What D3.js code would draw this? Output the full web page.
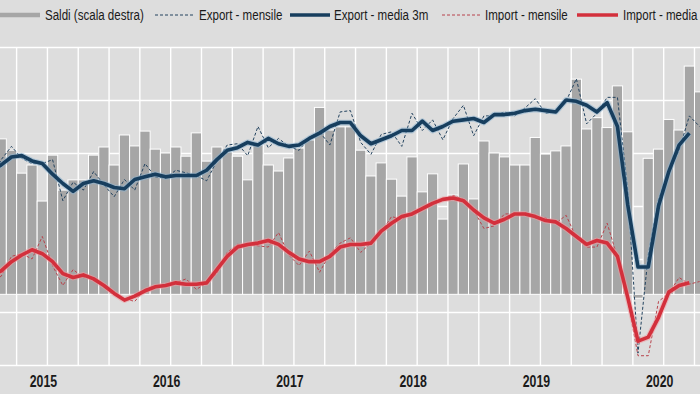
<!DOCTYPE html>
<html>
<head>
<meta charset="utf-8">
<script src="https://cdn.jsdelivr.net/npm/d3@7"></script>
<style>
  html, body { margin: 0; padding: 0; background: #dddddd; }
  svg { display: block; }
  text { font-family: "Liberation Sans", Arial, sans-serif; }
</style>
</head>
<body>
<svg id="chart" width="700" height="394"></svg>
<script>
// monthly data, Jan 2015 .. Oct 2020 (bn euro)
var years = ["2015", "2016", "2017", "2018", "2019", "2020"];

// Saldi (scala destra)
var saldi = [4.23, 4.40, 4.08, 3.43, 3.66, 2.64, 3.94, 2.95, 3.24, 3.24, 3.94, 4.17,
             3.66, 4.51, 4.20, 4.62, 4.11, 4.00, 4.17, 3.91, 4.57, 3.77, 4.17, 4.03,
             3.91, 3.24, 4.23, 3.66, 3.49, 3.86, 4.14, 4.37, 5.29, 4.65, 4.74, 4.74,
             4.08, 3.35, 3.72, 3.26, 2.78, 3.89, 2.90, 3.41, 2.13, 2.81, 3.69, 2.70,
             4.34, 4.00, 3.89, 3.66, 3.66, 4.44, 3.97, 4.06, 4.20, 6.09, 4.68, 5.00,
             4.72, 5.90, 4.60, -0.11, 3.85, 4.11, 4.95, 4.65, 6.46, 5.73];

var exportMensile = [33.4, 35.5, 36.5, 35.6, 35.2, 35.2, 35.5, 32.4, 33.8, 33.2, 34.6, 33.6,
                     32.7, 34.0, 33.2, 35.2, 34.2, 34.1, 34.7, 34.5, 34.3, 33.9, 35.4, 36.6,
                     36.7, 35.8, 38.0, 36.4, 37.1, 36.5, 36.2, 37.2, 37.6, 36.6, 39.1, 39.2,
                     36.8, 35.9, 37.4, 37.6, 36.5, 39.0, 37.7, 38.5, 37.0, 38.6, 39.6, 37.3,
                     38.8, 38.8, 39.1, 38.8, 39.4, 40.1, 39.0, 39.1, 39.9, 41.6, 38.2, 39.0,
                     40.2, 40.2, 33.2, 20.9, 28.3, 32.5, 34.6, 36.2, 38.8, 38.0];

var exportMedia3m = [34.6, 35.1, 35.7, 35.8, 35.4, 35.2, 34.4, 33.7, 33.1, 33.7, 33.9, 33.7,
                     33.4, 33.3, 34.0, 34.2, 34.4, 34.2, 34.3, 34.3, 34.3, 34.7, 35.5, 36.2,
                     36.4, 36.8, 36.6, 37.1, 36.7, 36.5, 36.6, 37.1, 37.5, 38.0, 38.3, 38.3,
                     37.3, 36.7, 37.0, 37.3, 37.7, 37.7, 38.4, 37.7, 38.0, 38.4, 38.5, 38.6,
                     38.3, 38.9, 38.9, 39.0, 39.2, 39.3, 39.2, 39.1, 40.0, 39.9, 39.6, 39.1,
                     39.8, 38.0, 32.1, 27.4, 27.4, 32.0, 34.6, 36.6, 37.5];

var importMensile = [26.3, 26.7, 28.2, 28.4, 28.0, 29.7, 27.5, 26.0, 27.2, 26.6, 26.6, 25.9,
                     25.3, 25.0, 24.8, 25.7, 26.0, 26.0, 26.2, 26.5, 25.7, 26.2, 26.9, 28.5,
                     29.1, 29.1, 29.0, 28.9, 30.0, 28.3, 27.5, 28.6, 27.0, 28.4, 29.2, 29.6,
                     28.5, 29.2, 30.0, 31.2, 31.0, 31.4, 31.8, 32.2, 32.5, 32.8, 32.5, 31.7,
                     30.3, 30.5, 31.4, 31.4, 31.5, 31.1, 31.1, 30.7, 31.3, 29.6, 28.9, 28.9,
                     30.7, 28.1, 24.9, 20.7, 20.7, 24.8, 25.4, 26.6, 26.1, 26.3];

var importMedia3m = [26.7, 27.1, 27.8, 28.3, 28.7, 28.4, 27.8, 26.9, 26.6, 26.8, 26.5, 26.0,
                     25.4, 24.9, 25.2, 25.6, 25.9, 26.0, 26.2, 26.1, 26.1, 26.2, 27.2, 28.2,
                     28.9, 29.1, 29.2, 29.4, 29.1, 28.5, 28.0, 27.8, 27.8, 28.2, 28.9, 29.1,
                     29.1, 29.2, 30.1, 30.7, 31.2, 31.4, 31.8, 32.2, 32.5, 32.6, 32.4, 31.7,
                     31.1, 30.7, 31.0, 31.4, 31.4, 31.2, 30.9, 30.8, 30.3, 29.7, 29.1, 29.4,
                     29.2, 28.2, 25.1, 21.8, 22.1, 23.6, 25.5, 26.0, 26.2];

var leftTicks = [20, 24, 28, 32, 36, 40, 44];

var C = {
    bg: "#dddddd",
    grid: "#ffffff",
    bar: "#a6a6a6",
    expThick: "#173e5e",
    expHalo: "#8db3cf",
    expDash: "#23435f",
    impThick: "#d3303c",
    impHalo: "#f19aa0",
    impDash: "#b8434c",
    text: "#1a1a1a"
};

var svg = d3.select("#chart");
var W = 700, H = 394;

// plot area runs past the crop on both sides
var plot = {top: 47, bottom: 365, left: -14.2, right: 725.3};

svg.append("rect").attr("width", W).attr("height", H).attr("fill", C.bg);

var months = d3.merge(years.map(function(y) {
    return d3.range(1, 13).map(function(m) { return y + "-" + (m < 10 ? "0" : "") + m; });
}));

var x = d3.scaleBand().domain(months).range([plot.left, plot.right]).padding(0);
var bw = x.bandwidth();
var cx = function(i) { return x(months[i]) + bw / 2; };

var yL = d3.scaleLinear().domain([20, 44]).range([plot.bottom, plot.top]);
var yR = d3.scaleLinear().domain([-2, 7]).range([plot.bottom, plot.top]);

// grid
var grid = svg.append("g");
grid.selectAll("line.h").data(leftTicks).enter().append("line")
    .attr("x1", 0).attr("x2", W)
    .attr("y1", function(d) { return Math.round(yL(d)) + 0.5; })
    .attr("y2", function(d) { return Math.round(yL(d)) + 0.5; })
    .attr("stroke", C.grid).attr("stroke-width", 1.4);

var quarters = months.filter(function(d, i) { return i % 3 === 0; });
grid.selectAll("line.v").data(quarters).enter().append("line")
    .attr("x1", function(d) { return x(d); })
    .attr("x2", function(d) { return x(d); })
    .attr("y1", plot.top).attr("y2", plot.bottom)
    .attr("stroke", C.grid).attr("stroke-width", 1.4);

// bars
svg.append("g").selectAll("rect").data(saldi).enter().append("rect")
    .attr("x", function(d, i) { return x(months[i]); })
    .attr("width", bw)
    .attr("y", function(d) { return yR(Math.max(0, d)); })
    .attr("height", function(d) { return Math.abs(yR(d) - yR(0)); })
    .attr("fill", C.bar)
    .attr("stroke", "#ffffff").attr("stroke-width", 1);

function drawLine(data, scale, color, width, dash, halo) {
    var line = d3.line()
        .x(function(d, i) { return cx(i); })
        .y(function(d) { return scale(d); });
    if (halo) {
        svg.append("path").datum(data)
            .attr("d", line).attr("fill", "none")
            .attr("stroke", halo).attr("stroke-width", width + 2.2)
            .attr("stroke-opacity", 0.55)
            .attr("stroke-linejoin", "round");
    }
    svg.append("path").datum(data)
        .attr("d", line).attr("fill", "none")
        .attr("stroke", color).attr("stroke-width", width)
        .attr("stroke-dasharray", dash || null)
        .attr("stroke-linejoin", "round");
}

drawLine(exportMensile, yL, C.expDash, 1, "3,2");
drawLine(exportMedia3m, yL, C.expThick, 3.6, null, C.expHalo);
drawLine(importMensile, yL, C.impDash, 1, "3,2");
drawLine(importMedia3m, yL, C.impThick, 3.6, null, C.impHalo);

// squeezed text like the original
function label(g, px, py, txt, size, weight, anchor) {
    return g.append("text")
        .attr("transform", "translate(" + px + "," + py + ") scale(0.77,1)")
        .attr("font-size", size)
        .attr("font-weight", weight || "normal")
        .attr("text-anchor", anchor || "start")
        .attr("fill", C.text)
        .text(txt);
}

// year labels
var axis = svg.append("g");
years.forEach(function(y) {
    var first = x(y + "-01");
    label(axis, first + 6 * bw - 4, 386.5, y, 16, "bold", "middle");
});

// legend
var legend = [
    {name: "Saldi (scala destra)", color: C.bar, w: 4.5, dash: null, x0: 0, x1: 40, tx: 45},
    {name: "Export - mensile", color: C.expDash, w: 1, dash: "3,2", x0: 155, x1: 195, tx: 199},
    {name: "Export - media 3m", color: C.expThick, w: 3.6, dash: null, x0: 290, x1: 330, tx: 334},
    {name: "Import - mensile", color: C.impDash, w: 1, dash: "3,2", x0: 442, x1: 480, tx: 485},
    {name: "Import - media 3m", color: C.impThick, w: 3.6, dash: null, x0: 577, x1: 618, tx: 623}
];
var lg = svg.append("g");
legend.forEach(function(d) {
    lg.append("line")
        .attr("x1", d.x0).attr("x2", d.x1).attr("y1", 15).attr("y2", 15)
        .attr("stroke", d.color).attr("stroke-width", d.w)
        .attr("stroke-dasharray", d.dash);
    label(lg, d.tx, 20, d.name, 15, "normal", "start");
});
</script>
</body>
</html>
